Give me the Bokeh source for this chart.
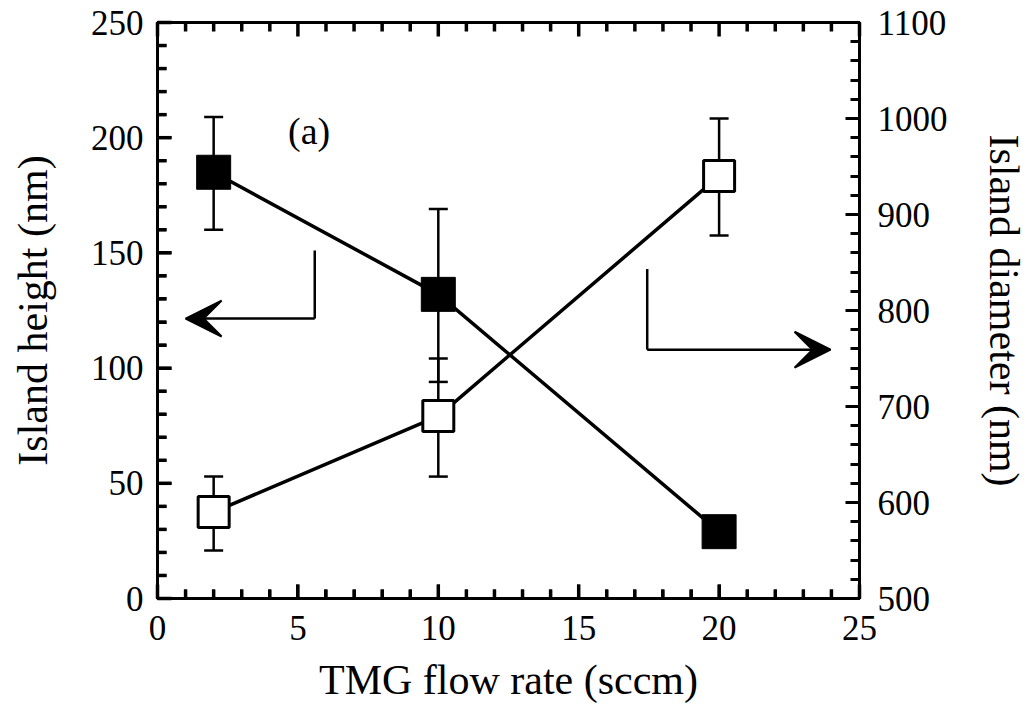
from bokeh.plotting import figure
from bokeh.models import (Range1d, LinearAxis, Whisker, TeeHead, Arrow, VeeHead,
                          ColumnDataSource, SingleIntervalTicker, Label)
from bokeh.embed import file_html
from bokeh.resources import INLINE

# ---- data ----
tmg_flow = [2, 10, 20]
island_height = [185, 132, 29]
height_lower = [160, 94, 29]
height_upper = [209, 169, 29]
island_diameter = [590, 690, 940]
diameter_lower = [550, 627, 878]
diameter_upper = [627, 750, 1000]

x_ticks = [0, 5, 10, 15, 20, 25]
left_ticks = [0, 50, 100, 150, 200, 250]
right_ticks = [500, 600, 700, 800, 900, 1000, 1100]

# annotation arrows (data coordinates)
left_arrow_x = [5.6, 5.6, 1.0]
left_arrow_y = [151, 121.5, 121.5]
right_arrow_x = [17.44, 17.44, 23.97]
right_arrow_y = [143, 108, 108]

FONT = "Liberation Serif"
TICK_FS = "35px"
TITLE_FS = "42px"
FRAME_W, FRAME_H = 702, 576
MAJOR_LEN, MINOR_LEN = 14, 9

p = figure(frame_width=FRAME_W, frame_height=FRAME_H, output_backend="svg",
           toolbar_location=None,
           x_range=Range1d(x_ticks[0], x_ticks[-1]),
           y_range=Range1d(left_ticks[0], left_ticks[-1]),
           min_border_left=157, min_border_right=100, min_border_top=22,
           min_border_bottom=100, x_axis_location=None, y_axis_location=None)
p.extra_y_ranges = {"diam": Range1d(right_ticks[0], right_ticks[-1])}
p.xgrid.visible = False
p.ygrid.visible = False
p.outline_line_color = "black"
p.outline_line_width = 3
p.background_fill_color = "white"
p.border_fill_color = "white"


def style_axis(ax, interval, minor):
    ax.ticker = SingleIntervalTicker(interval=interval, num_minor_ticks=minor)
    ax.axis_line_color = "black"
    ax.axis_line_width = 3
    ax.major_tick_in = MAJOR_LEN
    ax.major_tick_out = 0
    ax.minor_tick_in = MINOR_LEN
    ax.minor_tick_out = 0
    ax.major_tick_line_width = 3
    ax.minor_tick_line_width = 3
    ax.major_tick_line_color = "black"
    ax.minor_tick_line_color = "black"
    ax.major_label_text_font = FONT
    ax.major_label_text_font_size = TICK_FS
    ax.major_label_text_color = "black"
    ax.axis_label_text_font = FONT
    ax.axis_label_text_font_size = TITLE_FS
    ax.axis_label_text_font_style = "normal"
    ax.axis_label_text_color = "black"


xa = LinearAxis()
style_axis(xa, 5, 5)
xa.axis_label = "TMG flow rate (sccm)"
xa.major_label_standoff = 17
xa.axis_label_standoff = 14
p.add_layout(xa, "below")

ya = LinearAxis()
style_axis(ya, 50, 5)
ya.axis_label = "Island height (nm)"
ya.major_label_standoff = 14
ya.axis_label_standoff = 32
p.add_layout(ya, "left")

ra = LinearAxis(y_range_name="diam")
style_axis(ra, 100, 5)
ra.axis_label = "Island diameter (nm)"
ra.major_label_standoff = 18
ra.axis_label_standoff = 30
p.add_layout(ra, "right")

# inward tick marks along top, bottom and left frame edges
px_per_y = FRAME_H / (left_ticks[-1] - left_ticks[0])
px_per_x = FRAME_W / (x_ticks[-1] - x_ticks[0])
tick_x = list(range(x_ticks[0], x_ticks[-1] + 1))
len_x = [(MAJOR_LEN if v in x_ticks else MINOR_LEN) / px_per_y for v in tick_x]
y_top, y_bot = left_ticks[-1], left_ticks[0]
tick_y = list(range(left_ticks[0], left_ticks[-1] + 1, 10))
len_y = [(MAJOR_LEN if v in left_ticks else MINOR_LEN) / px_per_x for v in tick_y]
x_left = x_ticks[0]

tick_src = ColumnDataSource(dict(
    x0=tick_x + tick_x + [x_left] * len(tick_y),
    y0=[y_top] * len(tick_x) + [y_bot] * len(tick_x) + tick_y,
    x1=tick_x + tick_x + [x_left + L for L in len_y],
    y1=[y_top - L for L in len_x] + [y_bot + L for L in len_x] + tick_y,
))
p.segment(x0="x0", y0="y0", x1="x1", y1="y1", source=tick_src,
          line_width=3.5, line_color="black", level="overlay")

hsrc = ColumnDataSource(dict(x=tmg_flow, y=island_height, lo=height_lower, hi=height_upper))
dsrc = ColumnDataSource(dict(x=tmg_flow, y=island_diameter, lo=diameter_lower, hi=diameter_upper))

# error bars
for src, rname in ((hsrc, "default"), (dsrc, "diam")):
    w = Whisker(source=src, base="x", lower="lo", upper="hi", line_width=2.5,
                line_color="black",
                lower_head=TeeHead(size=19, line_width=2.5, line_color="black"),
                upper_head=TeeHead(size=19, line_width=2.5, line_color="black"))
    w.y_range_name = rname
    p.add_layout(w)

# lines
p.line("x", "y", source=hsrc, line_width=3.5, line_color="black")
p.line("x", "y", source=dsrc, line_width=3.5, line_color="black", y_range_name="diam")

# markers
p.scatter("x", "y", source=hsrc, marker="square", size=34, fill_color="black",
          line_color="black", line_width=1)
p.scatter("x", "y", source=dsrc, marker="square", size=31, fill_color="white",
          line_color="black", line_width=3, y_range_name="diam")

# annotation arrows
p.line(left_arrow_x[:2], left_arrow_y[:2], line_width=2.5, line_color="black")
p.add_layout(Arrow(x_start=left_arrow_x[1], y_start=left_arrow_y[1],
                   x_end=left_arrow_x[2], y_end=left_arrow_y[2], line_width=2.5,
                   line_color="black",
                   end=VeeHead(size=36, fill_color="black", fill_alpha=1.0,
                               line_color="black", line_width=2)))
p.line(right_arrow_x[:2], right_arrow_y[:2], line_width=2.5, line_color="black")
p.add_layout(Arrow(x_start=right_arrow_x[1], y_start=right_arrow_y[1],
                   x_end=right_arrow_x[2], y_end=right_arrow_y[2], line_width=2.5,
                   line_color="black",
                   end=VeeHead(size=36, fill_color="black", fill_alpha=1.0,
                               line_color="black", line_width=2)))

p.add_layout(Label(x=5.4, y=203, text="(a)", text_font=FONT, text_font_size="38px",
                   text_align="center", text_baseline="middle", text_color="black"))

open("out.html", "w").write(file_html(p, INLINE))
